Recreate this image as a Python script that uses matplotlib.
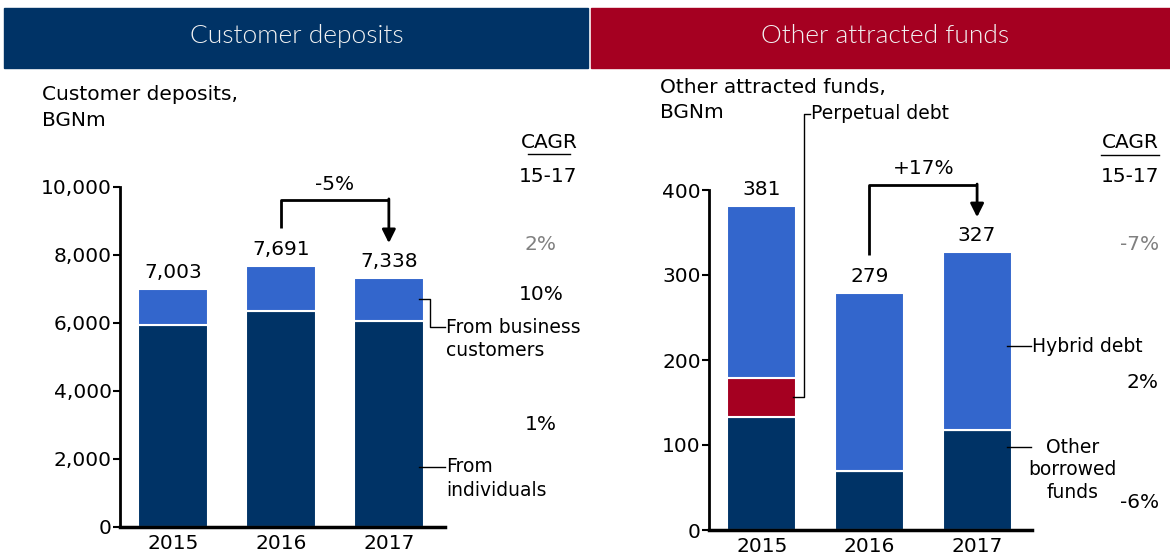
import numpy as np
import matplotlib
matplotlib.use("Agg")
import matplotlib.pyplot as plt
from matplotlib.patches import Rectangle
from matplotlib.lines import Line2D

# data
years = ['2015', '2016', '2017']
dep_individuals = [5950, 6350, 6070]
dep_business = [1053, 1341, 1268]
dep_totals = ['7,003', '7,691', '7,338']
dep_cagr = ['2%', '10%', '1%']

oth_borrowed = [133, 70, 118]
oth_perpetual = [46, 0, 0]
oth_hybrid = [202, 209, 209]
oth_totals = ['381', '279', '327']
oth_cagr = ['-7%', '2%', '-6%']

NAVY = '#003366'
BLUE = '#3366cc'
RED = '#a50021'
GREY = '#808080'
FS = 14.5
FS_SMALL = 13.5

W, H = 1170, 558
fig = plt.figure(figsize=(W / 100, H / 100), dpi=100)


def fx(px):
    return px / W


def fy(py):
    return 1 - py / H


# header bands
fig.add_artist(Rectangle((fx(4), fy(68)), fx(584), 60 / H, color=NAVY, transform=fig.transFigure))
fig.add_artist(Rectangle((fx(591), fy(68)), fx(579), 60 / H, color=RED, transform=fig.transFigure))
fig.text(fx(297), fy(36), 'Customer deposits', color='#f2f2f2', fontsize=19, ha='center', va='center',
         family=['Lato', 'DejaVu Sans'], weight=300)
fig.text(fx(885), fy(36), 'Other attracted funds', color='#f2f2f2', fontsize=19, ha='center', va='center',
         family=['Lato', 'DejaVu Sans'], weight=300)

# titles (one text per line)
fig.text(fx(42), fy(95), 'Customer deposits,', fontsize=FS, ha='left', va='center')
fig.text(fx(42), fy(120), 'BGNm', fontsize=FS, ha='left', va='center')
fig.text(fx(660), fy(88), 'Other attracted funds,', fontsize=FS, ha='left', va='center')
fig.text(fx(660), fy(112), 'BGNm', fontsize=FS, ha='left', va='center')


def style_axes(ax):
    for s in ['top', 'right']:
        ax.spines[s].set_visible(False)
    ax.spines['left'].set_linewidth(2)
    ax.spines['bottom'].set_linewidth(2.5)
    ax.tick_params(axis='y', direction='out', length=5, width=1.5, labelsize=FS, pad=1)
    ax.tick_params(axis='x', length=0, labelsize=FS, pad=5)


x = np.arange(len(years))
arrow = dict(arrowstyle='-|>,head_width=0.4,head_length=0.8', color='black', lw=2,
             shrinkA=0, shrinkB=0)

# ---------------- left chart
ax1 = fig.add_axes([fx(120), 1 - 527 / H, fx(325), 340 / H])
ax1.bar(x, dep_individuals, 0.65, color=NAVY, edgecolor='white', linewidth=1.5)
ax1.bar(x, dep_business, 0.65, bottom=dep_individuals, color=BLUE, edgecolor='white', linewidth=1.5)
ax1.set_xlim(-0.49, 2.52)
ax1.set_ylim(0, 10000)
ax1.set_yticks(range(0, 10001, 2000))
ax1.set_yticklabels(['{:,}'.format(v) for v in range(0, 10001, 2000)])
ax1.set_xticks(x)
ax1.set_xticklabels(years)
style_axes(ax1)
for i in range(3):
    ax1.annotate(dep_totals[i], (x[i], dep_individuals[i] + dep_business[i]), xytext=(0, 5),
                 textcoords='offset points', ha='center', va='bottom', fontsize=FS)

ax1.plot([1, 1, 2], [8790, 9620, 9620], color='black', lw=2, clip_on=False, solid_capstyle='butt')
ax1.annotate('', xy=(2, 8350), xytext=(2, 9650), arrowprops=arrow)
ax1.text(1.5, 10060, '-5%', fontsize=FS, ha='center', va='center')

ax1.plot([2.28, 2.38, 2.38, 2.52], [6700, 6700, 5880, 5880], color='black', lw=1, clip_on=False)
ax1.text(2.53, 5880, 'From business', fontsize=FS_SMALL, ha='left', va='center')
ax1.text(2.53, 5880 - 700, 'customers', fontsize=FS_SMALL, ha='left', va='center')
ax1.plot([2.28, 2.52], [1765, 1765], color='black', lw=1, clip_on=False)
ax1.text(2.53, 1765, 'From', fontsize=FS_SMALL, ha='left', va='center')
ax1.text(2.53, 1765 - 700, 'individuals', fontsize=FS_SMALL, ha='left', va='center')

# CAGR column left
fig.text(fx(549), fy(142), 'CAGR', fontsize=FS, ha='center', va='center')
fig.add_artist(Line2D([fx(528), fx(570)], [fy(154), fy(154)], color='black', lw=1))
fig.text(fx(548), fy(177), '15-17', fontsize=FS, ha='center', va='center')
for lab, py, col in zip(dep_cagr, [245, 294, 425], [GREY, 'black', 'black']):
    fig.text(fx(541), fy(py), lab, fontsize=FS, ha='center', va='center', color=col)

# ---------------- right chart
ax2 = fig.add_axes([fx(709), 1 - 530 / H, fx(323), 340 / H])
bot2 = np.array(oth_borrowed) + np.array(oth_perpetual)
ax2.bar(x, oth_borrowed, 0.64, color=NAVY, edgecolor='white', linewidth=1.5)
ax2.bar(x, oth_perpetual, 0.64, bottom=oth_borrowed, color=RED, edgecolor='white', linewidth=1.5)
ax2.bar(x, oth_hybrid, 0.64, bottom=bot2, color=BLUE, edgecolor='white', linewidth=1.5)
ax2.set_xlim(-0.49, 2.51)
ax2.set_ylim(0, 400)
ax2.set_yticks(range(0, 401, 100))
ax2.set_xticks(x)
ax2.set_xticklabels(years)
style_axes(ax2)
for i in range(3):
    ax2.annotate(oth_totals[i], (x[i], bot2[i] + oth_hybrid[i]), xytext=(0, 5),
                 textcoords='offset points', ha='center', va='bottom', fontsize=FS)

ax2.plot([1, 1, 2], [323, 406, 406], color='black', lw=2, clip_on=False, solid_capstyle='butt')
ax2.annotate('', xy=(2, 368), xytext=(2, 407), arrowprops=arrow)
ax2.text(1.5, 425, '+17%', fontsize=FS, ha='center', va='center')

# perpetual debt leader
ax2.plot([0.29, 0.39, 0.39, 0.45], [157, 157, 490, 490], color='black', lw=1, clip_on=False)
ax2.text(0.46, 490, 'Perpetual debt', fontsize=FS_SMALL, ha='left', va='center')

ax2.plot([2.28, 2.50], [216, 216], color='black', lw=1, clip_on=False)
ax2.text(2.51, 216, 'Hybrid debt', fontsize=FS_SMALL, ha='left', va='center')
ax2.plot([2.28, 2.50], [98, 98], color='black', lw=1, clip_on=False)
ax2.text(2.89, 71, 'Other\nborrowed\nfunds', fontsize=FS_SMALL, ha='center', va='center',
         multialignment='center', linespacing=1.24)

# CAGR column right
fig.text(fx(1159), fy(143), 'CAGR', fontsize=FS, ha='right', va='center')
fig.add_artist(Line2D([fx(1101), fx(1159)], [fy(155), fy(155)], color='black', lw=1))
fig.text(fx(1159), fy(177), '15-17', fontsize=FS, ha='right', va='center')
for lab, py, col in zip(oth_cagr, [245, 383, 502], [GREY, 'black', 'black']):
    fig.text(fx(1159), fy(py), lab, fontsize=FS, ha='right', va='center', color=col)

fig.savefig('out.png', dpi=100)
